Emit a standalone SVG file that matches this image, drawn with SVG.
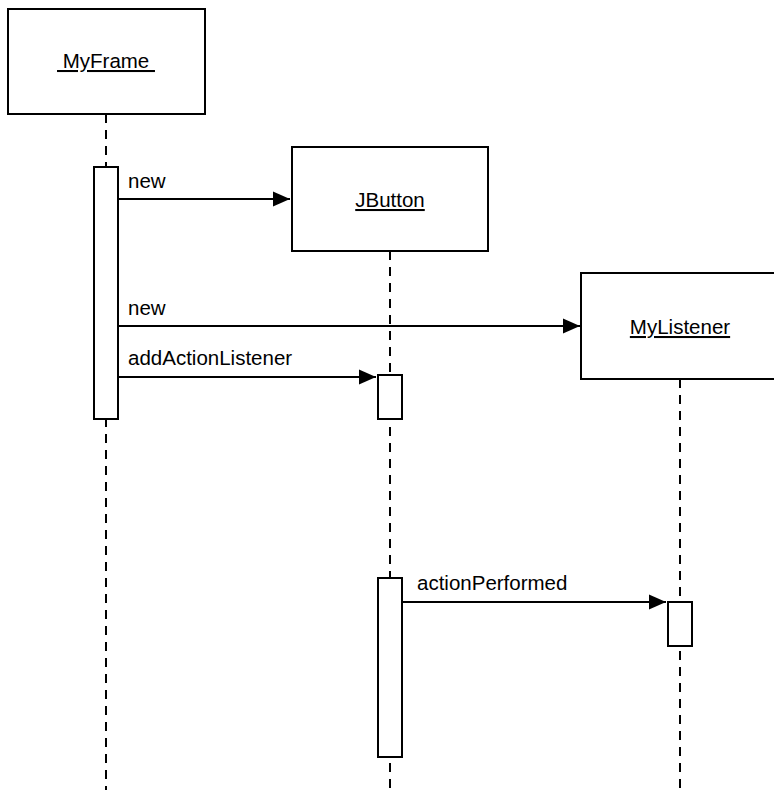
<svg xmlns="http://www.w3.org/2000/svg" width="774" height="790" viewBox="0 0 774 790">
  <style>
    .box { fill: #ffffff; stroke: #000000; stroke-width: 2; }
    .act { fill: #ffffff; stroke: #000000; stroke-width: 2; }
    .life { stroke: #000000; stroke-width: 2; stroke-dasharray: 9 7; fill: none; }
    .msg { stroke: #000000; stroke-width: 2; fill: none; }
    .name { font-family: "Liberation Sans", Arial, sans-serif; font-size: 20.5px; fill: #000000; text-anchor: middle; text-decoration: underline; white-space: pre; }
    .label { font-family: "Liberation Sans", Arial, sans-serif; font-size: 20.5px; fill: #000000; }
  </style>
  <defs>
    <marker id="arrow" markerUnits="userSpaceOnUse" markerWidth="18" markerHeight="16" refX="17" refY="8" orient="auto">
      <path d="M0,0.5 L17,8 L0,15.5 Z" fill="#000000"/>
    </marker>
  </defs>
  <rect width="774" height="790" fill="#ffffff"/>

  <!-- lifelines -->
  <g id="lifelines">
    <line class="life" x1="106" y1="114" x2="106" y2="790"/>
    <line class="life" x1="390" y1="251" x2="390" y2="790"/>
    <line class="life" x1="680" y1="379" x2="680" y2="790"/>
  </g>

  <!-- objects -->
  <g id="myframe">
    <rect class="box" x="8" y="9" width="197" height="105"/>
    <text class="name" x="106" y="68" xml:space="preserve"> MyFrame </text>
  </g>
  <g id="jbutton">
    <rect class="box" x="292" y="147" width="196" height="104"/>
    <text class="name" x="390" y="207">JButton</text>
  </g>
  <g id="mylistener">
    <rect class="box" x="581" y="273" width="198" height="106"/>
    <text class="name" x="680" y="334">MyListener</text>
  </g>

  <!-- activation bars -->
  <g id="myframe-activation">
    <rect class="act" x="94" y="167" width="24" height="252"/>
  </g>
  <g id="jbutton-activation-1">
    <rect class="act" x="378" y="375" width="24" height="44"/>
  </g>
  <g id="jbutton-activation-2">
    <rect class="act" x="378" y="578" width="24" height="179"/>
  </g>
  <g id="mylistener-activation">
    <rect class="act" x="668" y="602" width="24" height="44"/>
  </g>

  <!-- messages -->
  <g id="connectors">
    <line class="msg" x1="118" y1="199" x2="290" y2="199" marker-end="url(#arrow)"/>
    <text class="label" x="128" y="188">new</text>
    <line class="msg" x1="118" y1="326" x2="580" y2="326" marker-end="url(#arrow)"/>
    <text class="label" x="128" y="315">new</text>
    <line class="msg" x1="118" y1="377" x2="376" y2="377" marker-end="url(#arrow)"/>
    <text class="label" x="128" y="365">addActionListener</text>
    <line class="msg" x1="402" y1="602" x2="666" y2="602" marker-end="url(#arrow)"/>
    <text class="label" x="417" y="590">actionPerformed</text>
  </g>
</svg>
